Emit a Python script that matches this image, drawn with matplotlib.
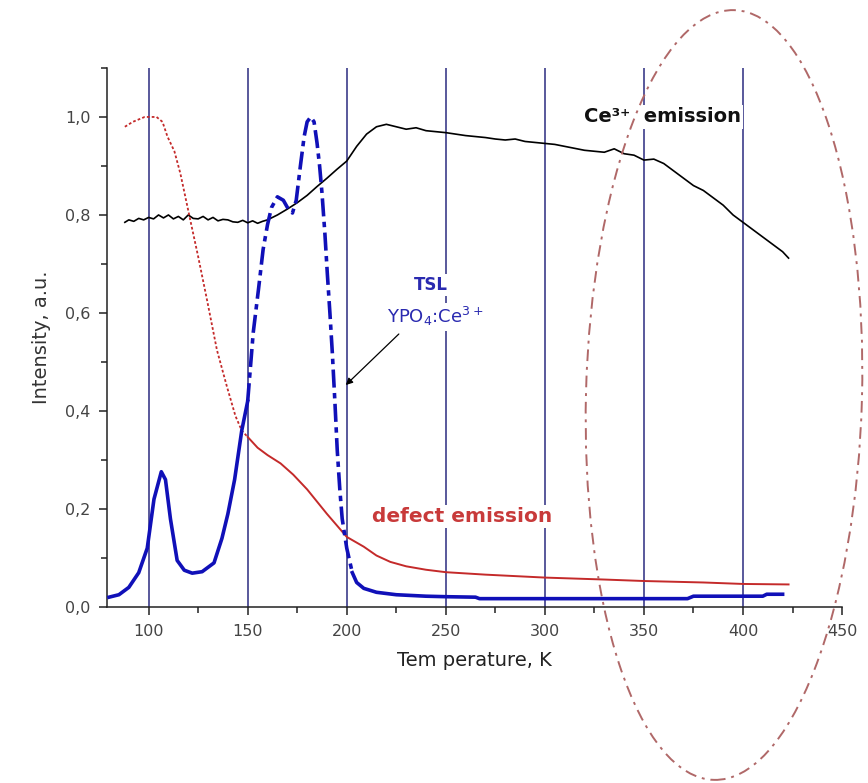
import matplotlib
matplotlib.use("Agg")
import matplotlib.pyplot as plt
from matplotlib.patches import Ellipse
from matplotlib.ticker import MultipleLocator, FuncFormatter

plt.rcParams['font.family'] = ['DejaVu Sans']

# ---- data ----
ce_T = [88, 90, 92.5, 95, 97.5, 100, 102.5, 105, 107.5, 110, 112.5, 115, 117.5, 120, 122.5,
        125, 127.5, 130, 132.5, 135, 137.5, 140, 142.5, 145, 147.5, 150, 152.5, 155, 157.5,
        160, 165, 170, 175, 180, 185, 190, 195, 200, 205, 210, 215, 220, 225, 230, 235, 240,
        245, 250, 255, 260, 265, 270, 275, 280, 285, 290, 295, 300, 305, 310, 315, 320,
        325, 330, 335, 340, 345, 350, 355, 360, 365, 370, 375, 380, 385, 390, 395, 400,
        405, 410, 415, 420, 423]
ce_I = [0.785, 0.79, 0.787, 0.793, 0.79, 0.795, 0.792, 0.8, 0.794, 0.80, 0.792, 0.797,
        0.79, 0.80, 0.793, 0.792, 0.797, 0.79, 0.795, 0.788, 0.791, 0.79, 0.786, 0.785,
        0.789, 0.784, 0.788, 0.783, 0.787, 0.79, 0.80, 0.812, 0.825, 0.84, 0.858, 0.875,
        0.893, 0.91, 0.94, 0.965, 0.98, 0.985, 0.98, 0.975, 0.978, 0.972, 0.97, 0.968,
        0.965, 0.962, 0.96, 0.958, 0.955, 0.953, 0.955, 0.95, 0.948, 0.946, 0.944, 0.94,
        0.936, 0.932, 0.93, 0.928, 0.935, 0.925, 0.922, 0.912, 0.914, 0.905, 0.89, 0.875,
        0.86, 0.85, 0.835, 0.82, 0.80, 0.785, 0.77, 0.755, 0.74, 0.725, 0.712]

def_T = [88, 92, 95, 98, 101, 104, 107, 109.5, 113, 116, 121, 125, 129.5, 134.5, 139.5,
         143.8, 147, 150, 155, 160, 166.6, 173, 180, 190, 200, 208.6, 215, 222, 230, 240,
         250, 270, 300, 330, 350, 380, 400, 423]
def_I = [0.98, 0.99, 0.995, 1.0, 1.0, 1.0, 0.99, 0.96, 0.93, 0.885, 0.79, 0.715, 0.626,
         0.524, 0.45, 0.39, 0.36, 0.347, 0.325, 0.31, 0.293, 0.27, 0.24, 0.19, 0.143,
         0.123, 0.105, 0.092, 0.083, 0.076, 0.071, 0.066, 0.06, 0.056, 0.053, 0.05, 0.047,
         0.046]

tsl_T = [80, 85, 90, 95, 99.3, 102.7, 106.4, 108.5, 111, 114.4, 118, 122, 127, 133, 137,
         140, 143.4, 147, 150, 152.8, 155.5, 157.8, 160, 162, 165, 168, 170.5, 172.6,
         174.5, 176.6, 178.5, 180, 181.8, 183.5, 185, 186.3, 187.5, 189, 190.2, 191.5,
         192.7, 194, 195.2, 196.5, 197.7, 200, 202.8, 205, 208.6, 215, 225, 240, 250,
         265, 267, 300, 340, 372, 375, 410, 412, 420]
tsl_I = [0.02, 0.025, 0.04, 0.07, 0.12, 0.22, 0.276, 0.26, 0.18, 0.095, 0.075, 0.069,
         0.072, 0.09, 0.14, 0.19, 0.26, 0.36, 0.42, 0.56, 0.65, 0.73, 0.78, 0.815, 0.837,
         0.83, 0.812, 0.804, 0.83, 0.90, 0.96, 0.99, 1.0, 0.99, 0.947, 0.9, 0.845, 0.76,
         0.68, 0.6, 0.52, 0.42, 0.32, 0.24, 0.18, 0.12, 0.07, 0.05, 0.038, 0.03, 0.025,
         0.022, 0.021, 0.02, 0.017, 0.017, 0.017, 0.017, 0.022, 0.022, 0.026, 0.026]

vlines_T = [100, 150, 200, 250, 300, 350, 400]
x_ticks = [100, 150, 200, 250, 300, 350, 400, 450]
y_ticks = [0.0, 0.2, 0.4, 0.6, 0.8, 1.0]

# ---- figure ----
fig = plt.figure(figsize=(8.68, 7.83), dpi=100)
ax = fig.add_axes([0.1233, 0.2248, 0.8468, 0.6884])

navy = '#2b2b80'
blue = '#1010b8'
red = '#c42a2a'

for t in vlines_T:
    ax.axvline(t, color=navy, lw=1.1, zorder=1)

ax.plot(ce_T, ce_I, color='black', lw=1.2, zorder=3)

# defect emission: dotted steep part, solid tail
i_split = def_T.index(150)
ax.plot(def_T[:i_split + 1], def_I[:i_split + 1], color=red, lw=1.3, ls=(0, (1.5, 1.2)), zorder=3)
ax.plot(def_T[i_split:], def_I[i_split:], color=red, lw=1.4, zorder=3)

# TSL
j1 = tsl_T.index(150)
j2 = tsl_T.index(202.8)
ax.plot(tsl_T[:j1 + 1], tsl_I[:j1 + 1], color=blue, lw=2.6, zorder=4)
ax.plot(tsl_T[j1:j2 + 1], tsl_I[j1:j2 + 1], color=blue, lw=2.6, ls=(0, (5, 1.5, 1.5, 1.5)), zorder=4)
ax.plot(tsl_T[j2:], tsl_I[j2:], color=blue, lw=2.6, zorder=4)

ax.set_xlim(79, 450)
ax.set_ylim(0, 1.1)
ax.spines['top'].set_visible(False)
ax.spines['right'].set_visible(False)
for s in ('left', 'bottom'):
    ax.spines[s].set_color('#222222')
    ax.spines[s].set_linewidth(1.1)

ax.set_xticks(x_ticks)
ax.set_yticks(y_ticks)
ax.xaxis.set_minor_locator(MultipleLocator(25))
ax.yaxis.set_minor_locator(MultipleLocator(0.1))
ax.yaxis.set_major_formatter(FuncFormatter(lambda v, p: f"{v:.1f}".replace('.', ',')))
ax.tick_params(which='major', direction='out', length=6, width=1.1, color='#222222',
               labelsize=11.5, labelcolor='#444444', pad=6)
ax.tick_params(which='minor', direction='out', length=4, width=1.1, color='#222222')

ax.set_xlabel('Tem perature, K', fontsize=14, color='#222222', labelpad=9)
ax.set_ylabel('Intensity, a.u.', fontsize=14, color='#333333', labelpad=10)

bb = dict(facecolor='white', edgecolor='none', pad=1.5)
ax.text(399, 1.0, 'Ce³⁺  emission', fontsize=14, fontweight='bold', color='#111111',
        ha='right', va='center', bbox=bb, zorder=5)
ax.text(258, 0.184, 'defect emission', fontsize=14.5, fontweight='bold', color='#c83a3a',
        ha='center', va='center', bbox=bb, zorder=5)
ax.text(242.4, 0.657, 'TSL', fontsize=12, fontweight='bold', color='#2a2ab0',
        ha='center', va='center', bbox=bb, zorder=5)
ax.text(244.5, 0.592, 'YPO$_4$:Ce$^{3\u002b}$', fontsize=13, color='#2a2ab0',
        ha='center', va='center', bbox=bb, zorder=5)
ax.annotate('', xy=(198.5, 0.449), xytext=(227.3, 0.561),
            arrowprops=dict(arrowstyle='-|>', color='black', lw=0.9, mutation_scale=10),
            zorder=6)

# overlay for the ellipse (figure pixel coords, y up)
ov = fig.add_axes([0, 0, 1, 1], facecolor='none')
ov.set_xlim(0, 868)
ov.set_ylim(0, 783)
ov.axis('off')
ov.add_patch(Ellipse((724, 388), 276, 770, angle=-1.5, fill=False, edgecolor='#b06868',
                     lw=1.4, ls=(0, (6, 3, 1.5, 3)), clip_on=False))

fig.savefig('out.png', dpi=100)
